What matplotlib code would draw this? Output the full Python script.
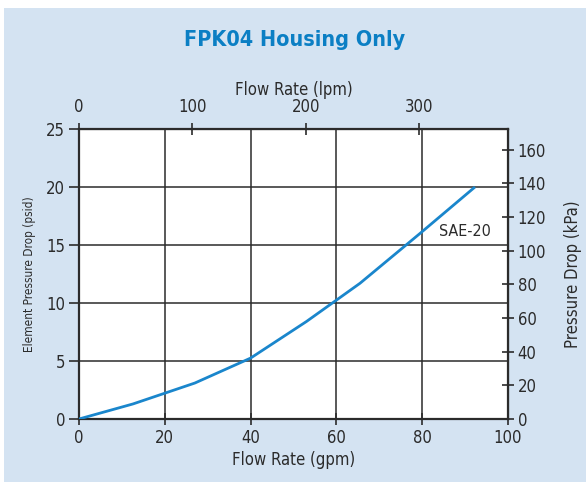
import matplotlib.pyplot as plt
from matplotlib.patches import Rectangle

flow_gpm = [0, 12.6, 27, 40, 53, 65.5, 79.5, 92.3]
dp_psid = [0, 1.3, 3.1, 5.25, 8.4, 11.7, 16.0, 20.0]
gpm_ticks = [0, 20, 40, 60, 80, 100]
psid_ticks = [0, 5, 10, 15, 20, 25]
lpm_ticks = [0, 100, 200, 300]
kpa_ticks = [0, 20, 40, 60, 80, 100, 120, 140, 160]

LPM_PER_GPM = 3.78541
KPA_PER_PSI = 6.89476

plt.rcParams['font.family'] = ['DejaVu Sans']
plt.rcParams['font.stretch'] = 'condensed'
dark = '#2b2b2b'
blue = '#1a86cc'

fig = plt.figure(figsize=(5.86, 4.82), dpi=100)
fig.patches.append(Rectangle((4 / 586, 0), 582 / 586, 474 / 482, transform=fig.transFigure,
                             facecolor='#d4e3f2', edgecolor='none', zorder=-5))

ax = fig.add_axes([79 / 586, 1 - 419 / 482, 429 / 586, 290 / 482])
ax.set_facecolor('white')
ax.plot(flow_gpm, dp_psid, color=blue, lw=2, solid_capstyle='butt', zorder=3)
ax.text(84, 16.2, 'SAE-20', fontsize=11.5, color=dark, va='center', ha='left')

ax.set_xlim(0, 100)
ax.set_ylim(0, 25)
ax.set_xticks(gpm_ticks)
ax.set_yticks(psid_ticks)
ax.grid(True, color=dark, lw=1.1)
ax.tick_params(axis='x', direction='inout', length=8, width=1.2, colors=dark, labelsize=12, pad=3)
ax.tick_params(axis='y', direction='out', length=7, width=1.2, colors=dark, labelsize=12, pad=3)
for s in ax.spines.values():
    s.set_color(dark)
    s.set_linewidth(1.6)
ax.set_xlabel('Flow Rate (gpm)', fontsize=12, color=dark, labelpad=3)
ax.set_ylabel('Element Pressure Drop (psid)', fontsize=8.5, color=dark, labelpad=7)

top = ax.secondary_xaxis('top', functions=(lambda g: g * LPM_PER_GPM, lambda l: l / LPM_PER_GPM))
top.set_xticks(lpm_ticks)
top.tick_params(direction='inout', length=8, width=1.2, colors=dark, labelsize=12, pad=5)
top.set_xlabel('Flow Rate (lpm)', fontsize=12, color=dark, labelpad=2.5)

right = ax.secondary_yaxis('right', functions=(lambda p: p * KPA_PER_PSI, lambda k: k / KPA_PER_PSI))
right.set_yticks(kpa_ticks)
right.tick_params(direction='inout', length=8, width=1.2, colors=dark, labelsize=12, pad=3)
right.set_ylabel('Pressure Drop (kPa)', fontsize=12, color=dark, labelpad=13)

fig.text(295 / 586, 1 - 40 / 482, 'FPK04 Housing Only', fontsize=15.5, fontweight='bold',
         color='#0b7fc4', ha='center', va='center')

fig.savefig('out.png', dpi=100)
